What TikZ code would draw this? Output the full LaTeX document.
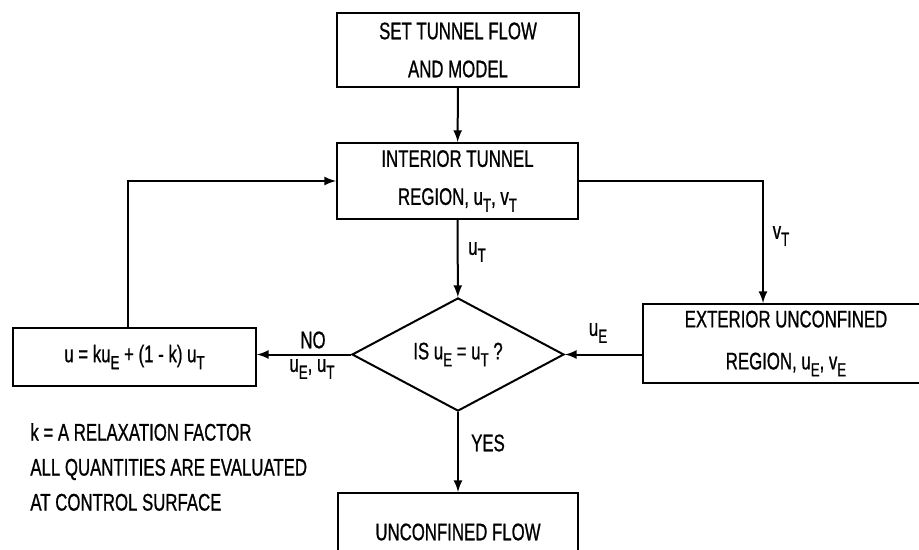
\documentclass[tikz,border=0pt]{standalone}
\usepackage{fontspec}
\setmainfont[FakeStretch=0.7, FakeBold=0.8]{Liberation Sans}
\usetikzlibrary{positioning}
\usetikzlibrary{arrows}
\usetikzlibrary{shapes}
\newcommand{\lowsub}[1]{\raisebox{-0.55ex}{\fontsize{9.5}{9.5}\selectfont #1}}

\begin{document}
\begin{tikzpicture}
    [x=0.5pt, y=-0.5pt, >=latex,
    block/.style={draw, line width=1pt, minimum width=121pt, minimum height=37pt, inner sep=2pt, align=center, font=\fontsize{12}{19}\selectfont},
    test/.style={diamond, draw, line width=1pt, minimum width=106pt, minimum height=53.5pt, inner sep=0pt, font=\fontsize{12}{19}\selectfont},
    lbl/.style={inner sep=1pt, font=\fontsize{12}{17.5}\selectfont},
    link/.style={->, line width=1pt}]
    \clip (0,0) rectangle (919,550);
    \node[block] (S) at (458,50) {SET TUNNEL FLOW\\AND MODEL};
    \node[block, minimum width=120.5pt, minimum height=38pt] (I) at (457.5,181) {INTERIOR TUNNEL\\REGION, u\lowsub{T}, v\lowsub{T}};
    \node[test] (D) at (458,354.5) {IS u\lowsub{E} = u\lowsub{T} ?};
    \node[block, minimum width=143pt, minimum height=39.5pt, font=\fontsize{12}{21}\selectfont] (E) at (786,343.5) {EXTERIOR UNCONFINED\\REGION, u\lowsub{E}, v\lowsub{E}};
    \node[block, minimum width=121.5pt, minimum height=29pt] (L) at (134.5,357) {u = ku\lowsub{E} + (1 - k) u\lowsub{T}};
    \node[block, minimum width=120pt, minimum height=39pt] (U) at (458,532) {UNCONFINED FLOW};
    \node[lbl, align=left, anchor=west] (note) at (28,467) {k = A RELAXATION FACTOR\\ALL QUANTITIES ARE EVALUATED\\AT CONTROL SURFACE};
    % connector labels
    \node[lbl] (uT) at (477,252) {u\lowsub{T}};
    \node[lbl] (vT) at (781,236) {v\lowsub{T}};
    \node[lbl] (uE) at (598,333) {u\lowsub{E}};
    \node[lbl] (no) at (313,340) {NO};
    \node[lbl] (uEuT) at (312,369) {u\lowsub{E}, u\lowsub{T}};
    \node[lbl] (yes) at (488,443) {YES};
    \coordinate (rc) at (763,181);
    \coordinate (lc) at (128,181);
    \draw[link] (S) -- (I);
    \draw[link] (I) -- (D);
    \draw[link] (I.east) -- (rc) -- (rc |- E.north);
    \draw[link] (E.west |- D.east) -- (D.east);
    \draw[link] (D.west) -- (L.east |- D.west);
    \draw[link] (L.north -| lc) -- (lc) -- (I.west);
    \draw[link] (D) -- (U);
\end{tikzpicture}
\end{document}
